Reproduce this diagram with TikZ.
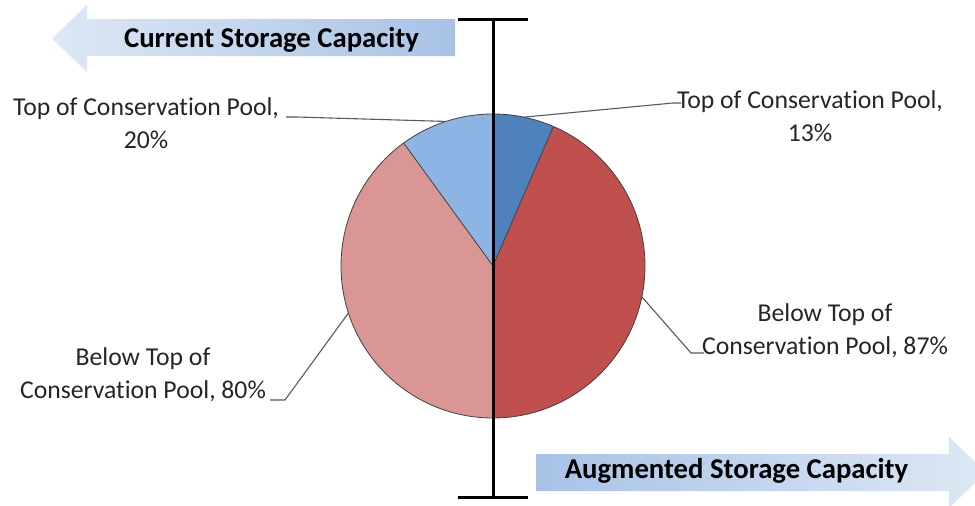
\documentclass[tikz,border=0pt]{standalone}
\usepackage{fontspec}
\setmainfont[Ligatures=NoCommon]{Carlito}
\usetikzlibrary{calc}
\definecolor{lblue}{RGB}{141,180,226}
\definecolor{dblue}{RGB}{79,129,189}
\definecolor{dred}{RGB}{192,80,77}
\definecolor{lred}{RGB}{217,150,148}
\definecolor{arrowpale}{RGB}{222,232,245}
\definecolor{arrowdeep}{RGB}{168,194,230}
\definecolor{txtgray}{RGB}{38,38,38}
\definecolor{leadgray}{RGB}{90,90,90}
\begin{document}
\begin{tikzpicture}[x=1pt,y=-1pt,
  slice/.style={draw=black!75, line width=0.8pt},
  leader/.style={draw=leadgray, line width=1.1pt},
  lbl/.style={align=center, inner sep=0pt, text=txtgray, font=\fontsize{25.7}{33}\selectfont},
  arrowtxt/.style={inner sep=0pt, text=black, font=\fontsize{28.7}{32}\selectfont\bfseries},
  axisline/.style={line width=3pt, black}]
\useasboundingbox (0,0) rectangle (975,506);
\fill[white] (0,0) rectangle (975,506);
\begin{scope}
\clip (0,0) rectangle (975,506);
% direction arrows
\shade[left color=arrowpale, right color=arrowdeep]
  (52,38.5) -- (87,5) -- (87,19) -- (455,19) -- (455,56) -- (87,56) -- (87,72) -- cycle;
\shade[left color=arrowdeep, right color=arrowpale]
  (536,454) -- (949,454) -- (949,437) -- (986,472.5) -- (949,508) -- (949,491) -- (536,491) -- cycle;
\end{scope}
\node[arrowtxt, anchor=base] (cur) at (271.5,47) {Current Storage Capacity};
\node[arrowtxt, anchor=base] (aug) at (736.5,478) {Augmented Storage Capacity};

% pie
\coordinate (c) at (493,266);
\fill[lblue] (c) -- ++(-90:152) arc[start angle=-90, end angle=-126, radius=152] -- cycle;
\fill[lred] (c) -- ++(-126:152) arc[start angle=-126, end angle=-270, radius=152] -- cycle;
\fill[dred] (c) -- ++(90:152) arc[start angle=90, end angle=-66.6, radius=152] -- cycle;
\fill[dblue] (c) -- ++(-66.6:152) arc[start angle=-66.6, end angle=-90, radius=152] -- cycle;
\draw[slice] (c) circle[radius=152];
\draw[slice] (c) -- ++(-126:152);
\draw[slice] (c) -- ++(-66.6:152);
\draw[slice] (c) -- ++(90:152);

% axis
\coordinate (top) at (493,19.5);
\coordinate (bot) at (493,497);
\draw[axisline] (top) -- (bot);
\draw[axisline] (458,19.5) -- (528,19.5);
\draw[axisline] (458,497) -- (528,497);

% labels
\node[lbl] (ltl) at (146,123) {Top of Conservation Pool,\\20\%};
\node[lbl] (rtl) at (810,116) {Top of Conservation Pool,\\13\%};
\node[lbl] (rbl) at (825,331) {Below Top of\\Conservation Pool, 87\%};
\node[lbl] (lbl2) at (143,375) {Below Top of\\Conservation Pool, 80\%};

% leader lines
\coordinate (p1) at ($(c)+(-108:152)$);
\coordinate (p2) at ($(c)+(-78.3:152)$);
\coordinate (p3) at ($(c)+(11.7:152)$);
\coordinate (p4) at ($(c)+(162:152)$);
\coordinate (e1) at (286,117);
\coordinate (e2) at (681,103);
\coordinate (e3) at (704,353);
\coordinate (e4) at (270,400);
\draw[leader] (e1) -- ++(11,0) -- (p1);
\draw[leader] (e2) -- ++(-8,0) -- (p2);
\draw[leader] (e3) -- ++(-13,0) -- (p3);
\draw[leader] (e4) -- ++(15,0) -- (p4);
\end{tikzpicture}
\end{document}
